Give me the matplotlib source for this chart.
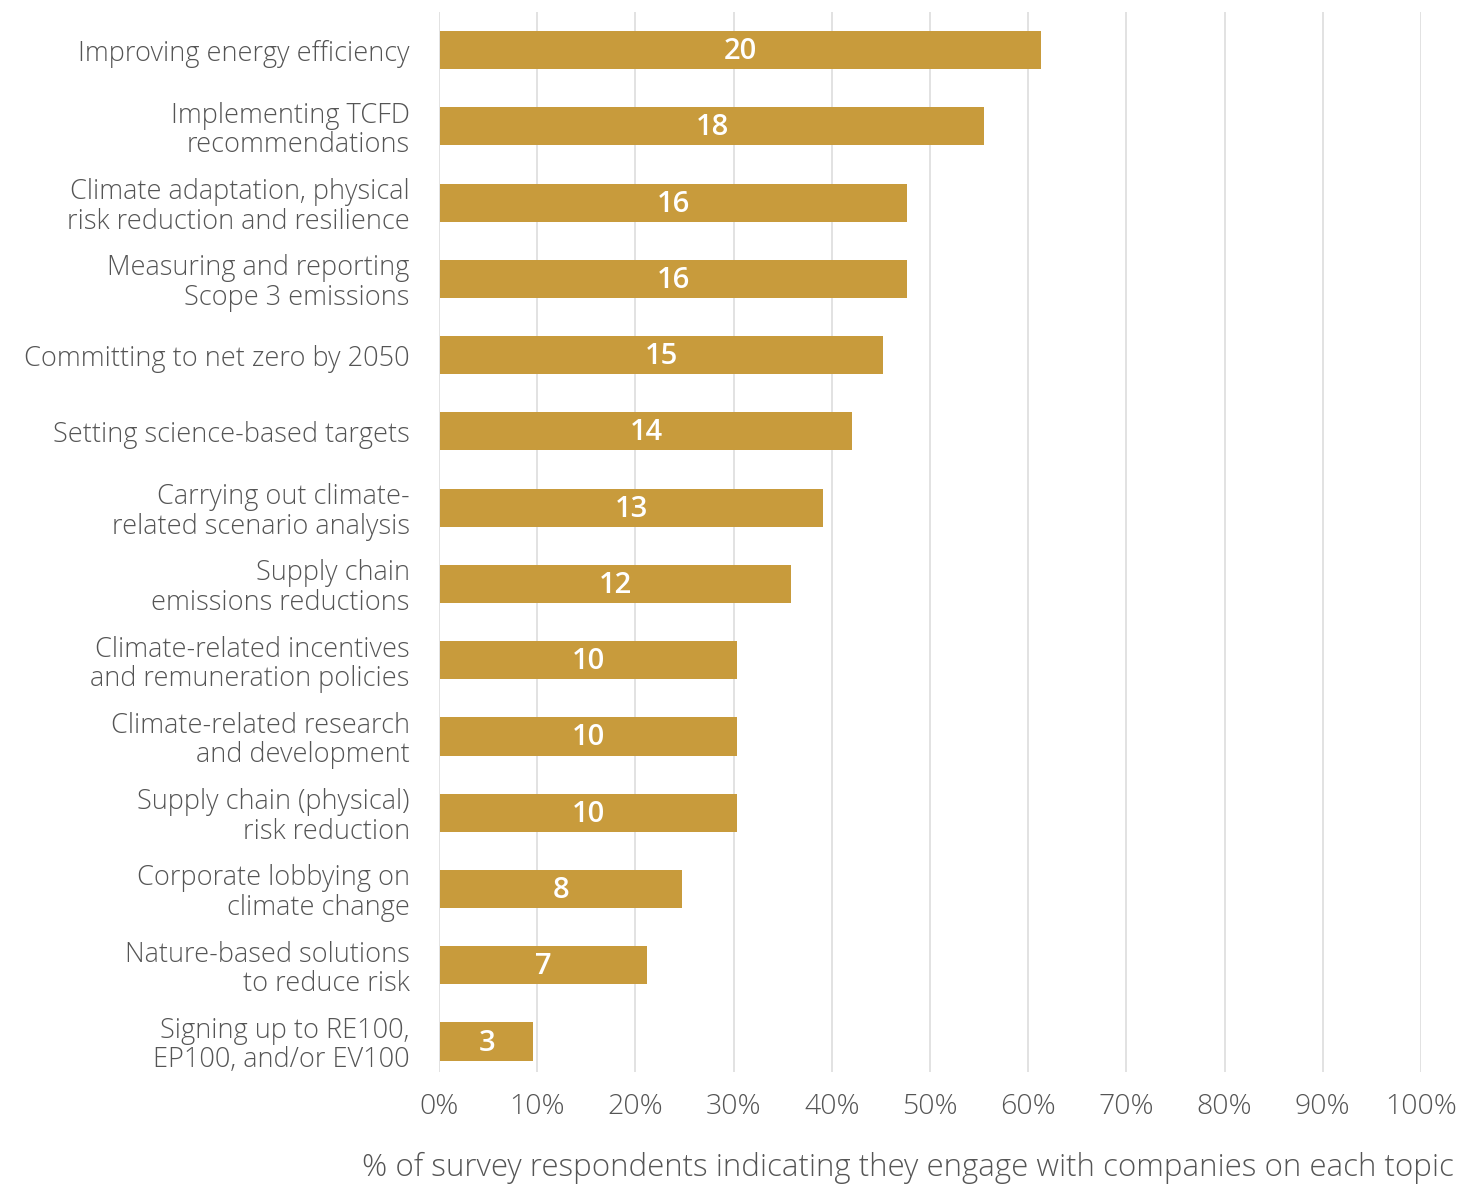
import matplotlib
matplotlib.use("Agg")
import matplotlib.pyplot as plt
from matplotlib.ticker import FuncFormatter

plt.rcParams['font.family'] = ['Open Sans', 'DejaVu Sans']

categories = [
    "Improving energy efficiency",
    "Implementing TCFD\nrecommendations",
    "Climate adaptation, physical\nrisk reduction and resilience",
    "Measuring and reporting\nScope 3 emissions",
    "Committing to net zero by 2050",
    "Setting science-based targets",
    "Carrying out climate-\nrelated scenario analysis",
    "Supply chain\nemissions reductions",
    "Climate-related incentives\nand remuneration policies",
    "Climate-related research\nand development",
    "Supply chain (physical)\nrisk reduction",
    "Corporate lobbying on\nclimate change",
    "Nature-based solutions\nto reduce risk",
    "Signing up to RE100,\nEP100, and/or EV100",
]
percent = [61.2, 55.4, 47.6, 47.6, 45.1, 42.0, 39.0, 35.8, 30.3, 30.3, 30.3, 24.6, 21.1, 9.5]
counts = [20, 18, 16, 16, 15, 14, 13, 12, 10, 10, 10, 8, 7, 3]
xticks = [0, 10, 20, 30, 40, 50, 60, 70, 80, 90, 100]
xlabel = "% of survey respondents indicating they engage with companies on each topic"

bar_color = "#C89B3C"
text_gray = "#555555"
grid_gray = "#DDDDDD"

fig = plt.figure(figsize=(14.76, 11.87), dpi=100)
ax = fig.add_axes([0.2974, 0.0969, 0.6653, 0.8930])

ypos = list(range(len(categories)))
ax.barh(ypos, percent, height=0.5, color=bar_color, zorder=3, left=0.1)
for y, p, c in zip(ypos, percent, counts):
    ax.text(0.1 + p / 2, y + 0.02, str(c), ha='center', va='center', color='white',
            fontsize=21, fontweight='semibold', zorder=4)

ax.set_xlim(0, 100)
ax.set_ylim(len(categories) - 1 + 0.4, -0.5)
ax.set_xticks(xticks)
ax.xaxis.set_major_formatter(FuncFormatter(lambda v, _: f"{int(v)}%"))
ax.set_yticks(ypos)
ax.set_yticklabels(categories, fontsize=19.5, color=text_gray, fontweight='light',
                   linespacing=1.07)
ax.tick_params(axis='y', length=0, pad=21)
ax.tick_params(axis='x', length=0, pad=15, labelsize=20.5, labelcolor=text_gray)
for lab in ax.get_xticklabels():
    lab.set_fontweight('light')
ax.grid(axis='x', color=grid_gray, linewidth=1.2, zorder=0)
for s in ax.spines.values():
    s.set_visible(False)

fig.text(908 / 1476, 1 - 1168 / 1187, xlabel, ha='center', va='center',
         fontsize=22.5, color=text_gray, fontweight='light')

fig.savefig("out.png", dpi=100)
